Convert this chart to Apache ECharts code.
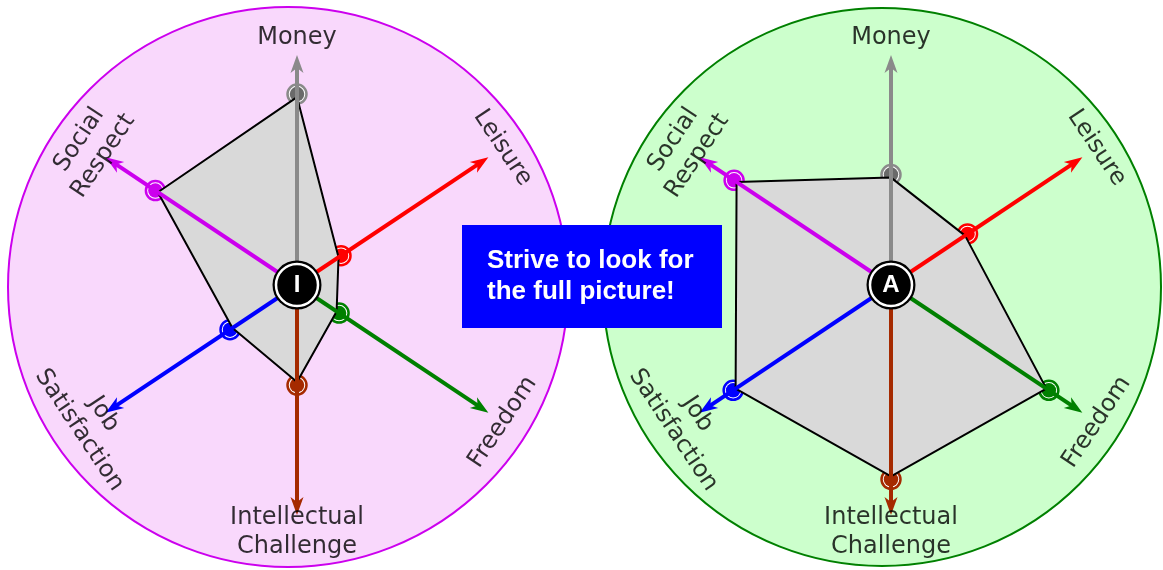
<!DOCTYPE html>
<html>
<head>
<meta charset="utf-8">
<script src="https://cdn.jsdelivr.net/npm/echarts@6/dist/echarts.min.js"></script>
<style>
  html, body { margin: 0; padding: 0; background: #fff; }
  #chart { width: 1163px; height: 570px; }
</style>
</head>
<body>
<div id="chart"></div>
<script>
// the six axes of each wheel
const axisNames = ['Money', 'Leisure', 'Freedom', 'Intellectual\nChallenge', 'Job\nSatisfaction', 'Social\nRespect']
// direction of each axis, degrees counter-clockwise from 3 o'clock
const axisAngles = [90, 33.7, 326.3, 270, 213.7, 146.3]
const axisColors = ['#8a8a8a', '#ff0000', '#008000', '#a52a00', '#0000ff', '#cc00ee']
const dotColors = ['#6a6a6a', '#ff0000', '#008000', '#a52a00', '#0000ff', '#cc00ee']

// scores on a 0..10 scale, 10 = tip of the arrow
const scoresI = [8.3, 2.3, 2.2, 4.35, 3.5, 7.4]
const scoresA = [4.8, 4.0, 8.25, 8.45, 8.25, 8.2]
const axisMax = 10

const boxText = 'Strive to look for\nthe full picture!'

const wheels = [
  { letter: 'I', scores: scoresI, center: [297, 285], disc: [288, 287], discR: 280, fill: '#f9d8fc', border: '#cc00ee' },
  { letter: 'A', scores: scoresA, center: [891, 285], disc: [882, 287], discR: 279, fill: '#ccffcc', border: '#008000' },
]

const RADIUS_MAX = 12      // radius axis max, 276px -> 23px per unit
const LABEL_R = 10.75
const ARROW_HALF = 0.39
const VERTEX_INSET = 0.13  // polygon corners sit on the inner edge of the markers
const ARROW = 'path://M6.5,0L13,18L6.5,13L0,18Z'
const LABEL_FONT = 'DejaVu Sans'

function labelRotate(a) {
  return a <= 180 ? a - 90 : a - 270
}

const chart = echarts.init(document.getElementById('chart'))

const polar = []
const angleAxis = []
const radiusAxis = []
const series = []

wheels.forEach((w, k) => {
  const bg = 2 * k
  const pi = 2 * k + 1

  // background disc: one radius band filled, the angle axis line is the rim
  polar.push({ center: w.disc, radius: w.discR })
  angleAxis.push({
    polarIndex: bg, type: 'value', min: 0, max: 360, interval: 90, startAngle: 0, clockwise: false,
    axisLine: { show: true, lineStyle: { color: w.border, width: 2 } },
    axisTick: { show: false }, axisLabel: { show: false }, splitLine: { show: false }, splitArea: { show: false },
  })
  radiusAxis.push({
    polarIndex: bg, type: 'value', min: 0, max: 1, interval: 1,
    axisLine: { show: false }, axisTick: { show: false }, axisLabel: { show: false }, splitLine: { show: false },
    splitArea: { show: true, areaStyle: { color: [w.fill], opacity: 1 } },
  })

  // wheel itself
  polar.push({ center: w.center, radius: RADIUS_MAX * 23 })
  angleAxis.push({ polarIndex: pi, type: 'value', min: 0, max: 360, startAngle: 0, clockwise: false, show: false })
  radiusAxis.push({ polarIndex: pi, type: 'value', min: 0, max: RADIUS_MAX, show: false })

  // target markers under the polygon
  series.push({
    type: 'scatter', coordinateSystem: 'polar', polarIndex: pi, z: 2, silent: true, symbolSize: 19,
    data: w.scores.map((v, i) => ({
      value: [v, axisAngles[i]],
      itemStyle: { color: '#fff', borderColor: axisColors[i], borderWidth: 2.5, opacity: 1 },
    })),
  })
  series.push({
    type: 'scatter', coordinateSystem: 'polar', polarIndex: pi, z: 2, silent: true, symbolSize: 14.5,
    data: w.scores.map((v, i) => ({
      value: [v, axisAngles[i]],
      itemStyle: { color: dotColors[i], opacity: 1 },
    })),
  })

  // score polygon
  const ring = w.scores.map((v, i) => [v - VERTEX_INSET, axisAngles[i]])
  series.push({
    type: 'line', coordinateSystem: 'polar', polarIndex: pi, z: 3, silent: true, symbol: 'none',
    data: [...ring, ring[0]],
    lineStyle: { color: '#000', width: 2 },
    areaStyle: { color: '#d9d9d9', opacity: 1 },
  })

  // spokes with arrows
  axisAngles.forEach((a, i) => {
    series.push({
      type: 'line', coordinateSystem: 'polar', polarIndex: pi, z: 4, silent: true,
      lineStyle: { color: axisColors[i], width: 4 },
      itemStyle: { color: axisColors[i], borderWidth: 0 },
      data: [
        { value: [0, a], symbol: 'none' },
        { value: [axisMax - ARROW_HALF, a], symbol: ARROW, symbolSize: [13, 18], symbolRotate: a - 90 },
      ],
    })
  })

  // axis names
  series.push({
    type: 'scatter', coordinateSystem: 'polar', polarIndex: pi, z: 4, silent: true, symbolSize: 1,
    itemStyle: { color: 'transparent' },
    label: {
      show: true, position: 'inside', color: '#000', fontFamily: LABEL_FONT, fontSize: 24, lineHeight: 29,
      formatter: p => p.name,
    },
    data: axisNames.map((name, i) => ({
      name, value: [LABEL_R, axisAngles[i]], label: { rotate: labelRotate(axisAngles[i]) },
    })),
  })

  // centre badge
  series.push({
    type: 'scatter', coordinateSystem: 'polar', polarIndex: pi, z: 5, silent: true, symbolSize: 49,
    itemStyle: { color: '#000', opacity: 1 },
    data: [[0, 0]],
  })
  series.push({
    type: 'scatter', coordinateSystem: 'polar', polarIndex: pi, z: 5, silent: true, symbolSize: 42,
    itemStyle: { color: '#000', borderColor: '#fff', borderWidth: 2.5, opacity: 1 },
    label: {
      show: true, position: 'inside', formatter: w.letter, color: '#fff',
      fontFamily: 'Liberation Sans', fontWeight: 'bold', fontSize: 24,
    },
    data: [[0, 0]],
  })
})

chart.setOption({
  animation: false,
  polar,
  angleAxis,
  radiusAxis,
  series,
  graphic: [
    { type: 'rect', z: 100, shape: { x: 462, y: 225, width: 260, height: 103 }, style: { fill: '#0000ff' } },
    {
      type: 'text', z: 101, x: 487, y: 276,
      style: {
        text: boxText, fill: '#fff', font: 'bold 26px "Liberation Sans"', lineHeight: 31,
        align: 'left', verticalAlign: 'middle',
      },
    },
  ],
})
</script>
</body>
</html>
